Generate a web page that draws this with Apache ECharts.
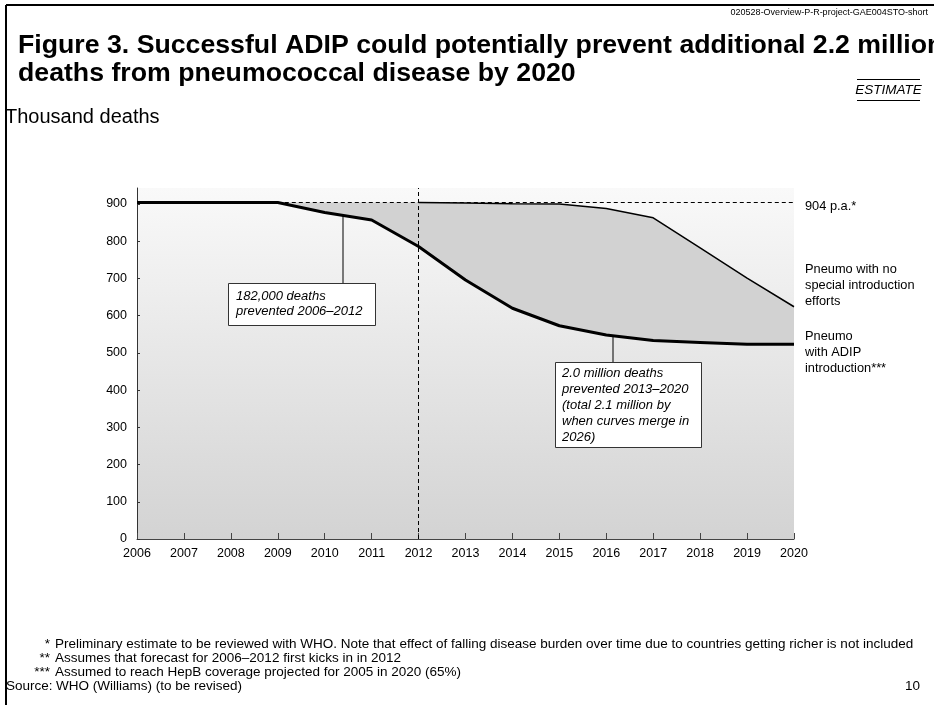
<!DOCTYPE html>
<html>
<head>
<meta charset="utf-8">
<script src="https://cdn.jsdelivr.net/npm/echarts@6/dist/echarts.min.js"></script>
<style>
  html, body { margin: 0; padding: 0; background: #fff; }
  #chart { width: 934px; height: 705px; }
</style>
</head>
<body>
<div id="chart"></div>
<script>
// ---- data ----
const years = ['2006','2007','2008','2009','2010','2011','2012','2013','2014','2015','2016','2017','2018','2019','2020'];
const noSpecial = [904, 904, 904, 904, 904, 904, 904, 903, 901, 900, 888, 863, 782, 701, 624];
const adip      = [904, 904, 904, 904, 877, 857, 786, 696, 620, 573, 548, 533, 528, 523, 523];
const yTicks = [0, 100, 200, 300, 400, 500, 600, 700, 800, 900];
const baselineValue = 904;
const noSpecialStartYear = '2012';
const dashedStartYear = '2009';
const splitYear = '2012';

const titleLines = [
  'Figure 3. Successful ADIP could potentially prevent additional 2.2 million',
  'deaths from pneumococcal disease by 2020'
];
const docId = '020528-Overview-P-R-project-GAE004STO-short';
const unitLabel = 'Thousand deaths';
const estimateLabel = 'ESTIMATE';
const baselineLabel = '904 p.a.*';
const noSpecialLabel = 'Pneumo with no\nspecial introduction\nefforts';
const adipLabel = 'Pneumo\nwith ADIP\nintroduction***';
const note1 = '182,000 deaths\nprevented 2006–2012';
const note2 = '2.0 million deaths\nprevented 2013–2020\n(total 2.1 million by\nwhen curves merge in\n2026)';
const footStars = ['*', '**', '***'];
const footTexts = [
  'Preliminary estimate to be reviewed with WHO. Note that effect of falling disease burden over time due to countries getting richer is not included',
  'Assumes that forecast for 2006–2012 first kicks in in 2012',
  'Assumed to reach HepB coverage projected for 2005 in 2020 (65%)'
];
const sourceLabel = 'Source:';
const sourceText = 'WHO (Williams) (to be revised)';
const pageNo = '10';

// ---- derived series ----
const startIdx = years.indexOf(noSpecialStartYear);
const upperLine = noSpecial.map((v, i) => (i >= startIdx ? v : null));
const gap = noSpecial.map((v, i) => v - adip[i]);

const FONT = '"Liberation Sans", Arial, sans-serif';
const chart = echarts.init(document.getElementById('chart'), null, { renderer: 'canvas' });

function txt(x, y, text, font, opts) {
  opts = opts || {};
  return {
    type: 'text', z: 100,
    style: Object.assign({
      x: x, y: y, text: text, font: font, fill: '#000',
      align: opts.align || 'left', verticalAlign: opts.va || 'middle'
    }, opts.lineHeight ? { lineHeight: opts.lineHeight } : {})
  };
}

const footGraphics = [];
footStars.forEach((s, i) => {
  footGraphics.push(txt(50, 644 + i * 14, s, '13.5px ' + FONT, { align: 'right' }));
  footGraphics.push(txt(55, 644 + i * 14, footTexts[i], '13.5px ' + FONT));
});

const option = {
  animation: false,
  backgroundColor: '#fff',
  grid: {
    left: 137, right: 140, top: 188, bottom: 166,
    show: true, borderWidth: 0,
    backgroundColor: new echarts.graphic.LinearGradient(0, 0, 0, 1, [
      { offset: 0, color: '#f9f9f9' },
      { offset: 1, color: '#d3d3d3' }
    ])
  },
  xAxis: {
    type: 'category', data: years, boundaryGap: false,
    axisLine: { lineStyle: { color: '#444', width: 1 } },
    axisTick: { inside: true, length: 6, lineStyle: { color: '#444' } },
    axisLabel: { color: '#000', fontSize: 12.5, fontFamily: FONT, margin: 8 },
    splitLine: { show: false }
  },
  yAxis: {
    type: 'value', min: 0, max: 943,
    axisLine: { show: true, lineStyle: { color: '#333', width: 1 } },
    axisTick: { show: true, inside: true, length: 3, customValues: yTicks, lineStyle: { color: '#333' } },
    axisLabel: { color: '#000', fontSize: 12.5, fontFamily: FONT, margin: 10, customValues: yTicks },
    splitLine: { show: false }
  },
  series: [
    {
      name: 'base', type: 'line', stack: 'gap', data: adip,
      symbol: 'none', lineStyle: { opacity: 0 }, silent: true, z: 1
    },
    {
      name: 'gap', type: 'line', stack: 'gap', data: gap,
      symbol: 'none', lineStyle: { opacity: 0 },
      areaStyle: { color: '#d2d2d2', opacity: 1 }, silent: true, z: 1
    },
    {
      name: 'Pneumo with no special introduction efforts', type: 'line', data: upperLine,
      symbol: 'none', lineStyle: { color: '#000', width: 1.5 }, z: 3,
      markLine: {
        silent: true, symbol: 'none', label: { show: false },
        data: [
          [{ coord: [dashedStartYear, baselineValue] }, { coord: [years[years.length - 1], baselineValue] }],
          { xAxis: splitYear }
        ],
        lineStyle: { color: '#000', type: [4, 3], width: 1 }
      }
    },
    {
      name: 'Pneumo with ADIP introduction', type: 'line', data: adip,
      symbol: 'none', lineStyle: { color: '#000', width: 3 }, z: 4
    }
  ],
  graphic: [
    { type: 'line', shape: { x1: 6, y1: 5, x2: 934, y2: 5 }, style: { stroke: '#000', lineWidth: 2 } },
    { type: 'line', shape: { x1: 6, y1: 5, x2: 6, y2: 705 }, style: { stroke: '#000', lineWidth: 2 } },
    txt(928, 13, docId, '9px ' + FONT, { align: 'right' }),
    txt(18, 46, titleLines[0], 'bold 26.7px ' + FONT),
    txt(18, 74, titleLines[1], 'bold 26.7px ' + FONT),
    { type: 'line', shape: { x1: 857, y1: 79.5, x2: 920, y2: 79.5 }, style: { stroke: '#000', lineWidth: 1 } },
    { type: 'line', shape: { x1: 857, y1: 100.5, x2: 920, y2: 100.5 }, style: { stroke: '#000', lineWidth: 1 } },
    txt(888.5, 90, estimateLabel, 'italic 13.5px ' + FONT, { align: 'center' }),
    txt(5, 117, unitLabel, '20px ' + FONT),
    txt(805, 206, baselineLabel, '12.8px ' + FONT),
    txt(805, 261, noSpecialLabel, '12.8px ' + FONT, { va: 'top', lineHeight: 16 }),
    txt(805, 328, adipLabel, '12.8px ' + FONT, { va: 'top', lineHeight: 16 }),
    { type: 'line', shape: { x1: 343, y1: 209, x2: 343, y2: 283 }, style: { stroke: '#000', lineWidth: 1 } },
    { type: 'rect', shape: { x: 228.5, y: 283.5, width: 147, height: 42 }, style: { fill: '#fff', stroke: '#333', lineWidth: 1 } },
    txt(236, 288.5, note1, 'italic 13px ' + FONT, { va: 'top', lineHeight: 15.5 }),
    { type: 'line', shape: { x1: 613, y1: 282, x2: 613, y2: 362 }, style: { stroke: '#000', lineWidth: 1 } },
    { type: 'rect', shape: { x: 555.5, y: 362.5, width: 146, height: 85 }, style: { fill: '#fff', stroke: '#333', lineWidth: 1 } },
    txt(562, 365.5, note2, 'italic 13px ' + FONT, { va: 'top', lineHeight: 16 }),
    ...footGraphics,
    txt(6, 686, sourceLabel, '13.5px ' + FONT),
    txt(56, 686, sourceText, '13.5px ' + FONT),
    txt(920, 686, pageNo, '13.5px ' + FONT, { align: 'right' })
  ]
};
chart.setOption(option);
</script>
</body>
</html>
